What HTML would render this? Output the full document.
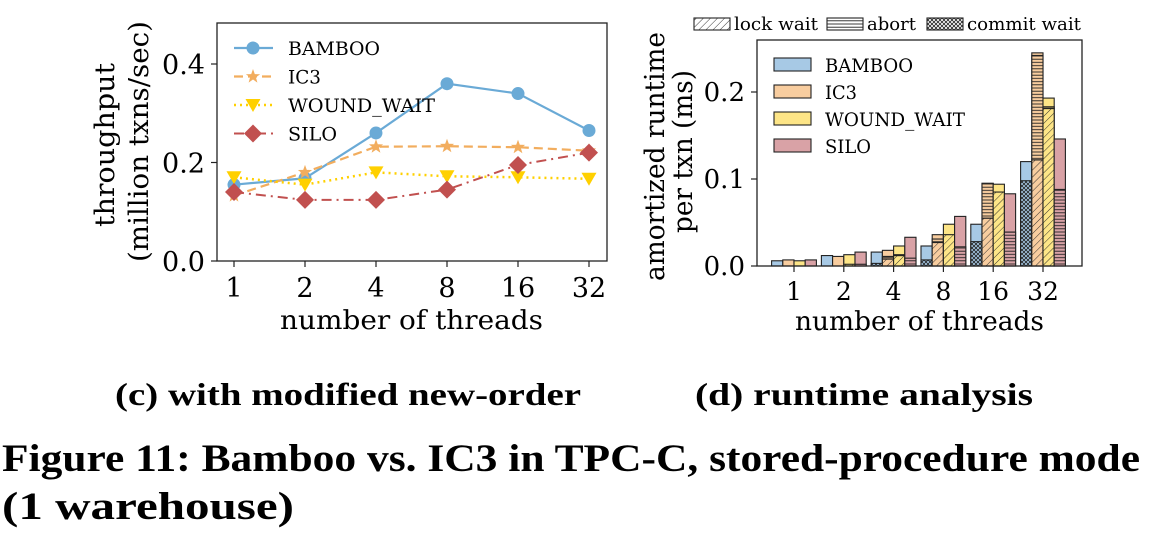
<!DOCTYPE html>
<html><head><meta charset="utf-8"><style>
html,body{margin:0;padding:0;background:#fff;}
svg{display:block;}
</style></head><body>
<svg id="fig" width="1160" height="554" viewBox="0 0 1160 554" xmlns="http://www.w3.org/2000/svg" font-family="DejaVu Serif, Liberation Serif, serif">
<defs>
<pattern id="hLock" patternUnits="userSpaceOnUse" width="5" height="5" patternTransform="rotate(45)"><line x1="0" y1="0" x2="0" y2="5" stroke="#222" stroke-width="0.9"/></pattern>
<pattern id="hAbort" patternUnits="userSpaceOnUse" width="4" height="3.2"><line x1="0" y1="1.6" x2="4" y2="1.6" stroke="#222" stroke-width="0.9"/></pattern>
<pattern id="hCommit" patternUnits="userSpaceOnUse" width="4" height="4"><path d="M0,0L4,4M4,0L0,4" stroke="#222" stroke-width="0.8"/></pattern>
</defs>
<g id="left"></g>
<g id="right"></g>
<text style="font-family:'Liberation Serif',serif;font-weight:bold" x="115" y="405" font-size="32" textLength="466" lengthAdjust="spacingAndGlyphs">(c) with modified new-order</text>
<text style="font-family:'Liberation Serif',serif;font-weight:bold" x="695" y="405" font-size="32" textLength="338" lengthAdjust="spacingAndGlyphs">(d) runtime analysis</text>
<text style="font-family:'Liberation Serif',serif;font-weight:bold" x="2" y="471" font-size="39" textLength="1138" lengthAdjust="spacingAndGlyphs">Figure 11: Bamboo vs. IC3 in TPC-C, stored-procedure mode</text>
<text style="font-family:'Liberation Serif',serif;font-weight:bold" x="2" y="519" font-size="39" textLength="292" lengthAdjust="spacingAndGlyphs">(1 warehouse)</text>
</svg>
<script>
const threads = ["1","2","4","8","16","32"];
const bambooTput = [0.155,0.168,0.26,0.36,0.34,0.265];
const ic3Tput = [0.133,0.18,0.232,0.233,0.231,0.224];
const wwTput = [0.17,0.155,0.18,0.172,0.17,0.167];
const siloTput = [0.14,0.124,0.124,0.145,0.195,0.22];
const leftTicks = [0.0,0.2,0.4];

const systems = ["BAMBOO","IC3","WOUND_WAIT","SILO"];
const commitWait = {BAMBOO:[0,0,0.003,0.007,0.028,0.098],IC3:[0,0,0,0,0,0],WOUND_WAIT:[0,0,0,0,0,0],SILO:[0,0,0,0,0,0]};
const lockWait = {BAMBOO:[0,0,0,0,0,0],IC3:[0,0,0.008,0.027,0.055,0.122],WOUND_WAIT:[0,0.002,0.012,0.036,0.085,0.181],SILO:[0,0,0,0,0,0]};
const abortTime = {BAMBOO:[0,0,0,0,0,0],IC3:[0,0,0.003,0.004,0.04,0.12],WOUND_WAIT:[0,0,0.001,0,0,0.002],SILO:[0,0.002,0.009,0.022,0.039,0.088]};
const totalTime = {BAMBOO:[0.006,0.012,0.016,0.023,0.048,0.12],IC3:[0.007,0.011,0.018,0.036,0.095,0.245],WOUND_WAIT:[0.006,0.013,0.023,0.048,0.094,0.193],SILO:[0.007,0.016,0.033,0.057,0.083,0.146]};
const rightTicks = [0.0,0.1,0.2];

const NS="http://www.w3.org/2000/svg";
function mk(parent,tag,attrs,txt){const e=document.createElementNS(NS,tag);for(const k in attrs)e.setAttribute(k,attrs[k]);if(txt!==undefined)e.textContent=txt;parent.appendChild(e);return e;}

// LEFT
const L=document.getElementById('left');
const lx0=217,lx1=607,ly0=23,ly1=261;
const lx=i=>234+i*71;
const ly=v=>261-v*492.5;
let fr=mk(L,'rect',{x:lx0,y:ly0,width:lx1-lx0,height:ly1-ly0,fill:'none',stroke:'#222','stroke-width':1.3});

leftTicks.forEach(v=>{
  let t=mk(L,'line',{x1:lx0-6,x2:lx0,y1:ly(v),y2:ly(v),stroke:'#222','stroke-width':1.2});
  
  let l=mk(L,'text',{x:lx0-12,y:ly(v)+10,'font-size':27,'text-anchor':'end'},v.toFixed(1));
  
});
threads.forEach((c,i)=>{
  let t=mk(L,'line',{x1:lx(i),x2:lx(i),y1:ly1,y2:ly1+6,stroke:'#222','stroke-width':1.2});
  
  let l=mk(L,'text',{x:lx(i),y:ly1+36,'font-size':27,'text-anchor':'middle'},c);
  
});
let xl=mk(L,'text',{x:280,y:329,'font-size':26,textLength:263,lengthAdjust:'spacingAndGlyphs'},'number of threads');

let yl1=mk(L,'text',{x:-82,y:0,'font-size':27,textLength:164,lengthAdjust:'spacingAndGlyphs',transform:'translate(114,145) rotate(-90)'},'throughput');

let yl2=mk(L,'text',{x:-120,y:0,'font-size':27,textLength:241,lengthAdjust:'spacingAndGlyphs',transform:'translate(148,142) rotate(-90)'},'(million txns/sec)');


function marker(g,type,x,y,col){
  let e;
  if(type==='circle') e=mk(g,'circle',{cx:x,cy:y,r:6.5,fill:col});
  else if(type==='star'){let p=[];for(let k=0;k<10;k++){const r=k%2?3:7.5,a=-Math.PI/2+k*Math.PI/5;p.push((x+r*Math.cos(a)).toFixed(1)+','+(y+r*Math.sin(a)).toFixed(1));}e=mk(g,'polygon',{points:p.join(' '),fill:col});}
  else if(type==='tri') e=mk(g,'polygon',{points:`${x-7.5},${y-6} ${x+7.5},${y-6} ${x},${y+7}`,fill:col});
  else e=mk(g,'polygon',{points:`${x},${y-9} ${x+9},${y} ${x},${y+9} ${x-9},${y}`,fill:col});
  return e;
}
const series=[
  {name:'BAMBOO',data:bambooTput,col:'#6aaad6',dash:'',m:'circle',w:2.2,tl:92},
  {name:'IC3',data:ic3Tput,col:'#f2ad5e',dash:'9,5',m:'star',w:2.2,tl:33},
  {name:'WOUND_WAIT',data:wwTput,col:'#ffd000',dash:'2,4',m:'tri',w:2.5,tl:147},
  {name:'SILO',data:siloTput,col:'#c1504f',dash:'10,5,2,5',m:'diamond',w:2,tl:49},
];
series.forEach((s,si)=>{
  const g=mk(L,'g',{});
  
  const pl=mk(g,'polyline',{points:s.data.map((v,i)=>lx(i)+','+ly(v)).join(' '),fill:'none',stroke:s.col,'stroke-width':s.w,'stroke-dasharray':s.dash});
  
  s.data.forEach((v,i)=>{const m=marker(g,s.m,lx(i),ly(v),s.col);
    });
  const ey=48+si*28.5;
  const lg=mk(L,'g',{});
  
  mk(lg,'line',{x1:234,x2:273,y1:ey,y2:ey,stroke:s.col,'stroke-width':s.w,'stroke-dasharray':s.dash});
  marker(lg,s.m,253,ey,s.col);
  mk(lg,'text',{x:288,y:ey+7,'font-size':19,textLength:s.tl,lengthAdjust:'spacingAndGlyphs'},s.name);
});

// RIGHT
const R=document.getElementById('right');
const rx0=757,rx1=1082,ry0=40,ry1=266;
const gx=i=>794+i*49.8;
const ry=v=>266-v*870;
const bw=11.2;
const fills={BAMBOO:'#a7c9e5',IC3:'#f8cd9f',WOUND_WAIT:'#fde587',SILO:'#d9a2a6'};
threads.forEach((c,i)=>{
  systems.forEach((s,j)=>{
    const g=mk(R,'g',{});
    
    
    const x=gx(i)+(j-2)*bw;
    const tot=totalTime[s][i];
    mk(g,'rect',{x:x,y:ry(tot),width:bw,height:ry(0)-ry(tot),fill:fills[s],stroke:'#222','stroke-width':1.1});
    let base=0;
    [[commitWait,'hCommit'],[lockWait,'hLock'],[abortTime,'hAbort']].forEach(([arr,pat])=>{
      const v=arr[s][i]; if(v<=0)return;
      mk(g,'rect',{x:x,y:ry(base+v),width:bw,height:ry(base)-ry(base+v),fill:fills[s],stroke:'#222','stroke-width':1.1});
      mk(g,'rect',{x:x,y:ry(base+v),width:bw,height:ry(base)-ry(base+v),fill:`url(#${pat})`,stroke:'none'});
      base+=v;
    });
  });
  let t=mk(R,'line',{x1:gx(i),x2:gx(i),y1:ry1,y2:ry1+6,stroke:'#222','stroke-width':1.2});
  
  let l=mk(R,'text',{x:gx(i),y:ry1+34,'font-size':25,'text-anchor':'middle'},c);
  
});
let rfr=mk(R,'rect',{x:rx0,y:ry0,width:rx1-rx0,height:ry1-ry0,fill:'none',stroke:'#222','stroke-width':1.3});

rightTicks.forEach(v=>{
  let t=mk(R,'line',{x1:rx0-6,x2:rx0,y1:ry(v),y2:ry(v),stroke:'#222','stroke-width':1.2});
  
  let l=mk(R,'text',{x:rx0-12,y:ry(v)+9,'font-size':26,'text-anchor':'end'},v.toFixed(1));
  
});
let rxl=mk(R,'text',{x:795,y:330,'font-size':26,textLength:249,lengthAdjust:'spacingAndGlyphs'},'number of threads');

let ryl1=mk(R,'text',{x:-124,y:0,'font-size':27,textLength:249,lengthAdjust:'spacingAndGlyphs',transform:'translate(664,157) rotate(-90)'},'amortized runtime');

let ryl2=mk(R,'text',{x:-81,y:0,'font-size':27,textLength:163,lengthAdjust:'spacingAndGlyphs',transform:'translate(692,152) rotate(-90)'},'per txn (ms)');

const rLegLen=[88,32,140,46];
systems.forEach((s,j)=>{
  const ey=65+j*27;
  const lg=mk(R,'g',{});
  
  mk(lg,'rect',{x:774,y:ey-7,width:37,height:13,fill:fills[s],stroke:'#222','stroke-width':1.1});
  mk(lg,'text',{x:825,y:ey+7,'font-size':19,textLength:rLegLen[j],lengthAdjust:'spacingAndGlyphs'},s);
});
const hatchNames=['lock wait','abort','commit wait'];
const hatchPats=['hLock','hAbort','hCommit'];
const hx=[694,827,927];
const hLen=[84,49,114];
hatchNames.forEach((n,k)=>{
  const lg=mk(R,'g',{});
  
  mk(lg,'rect',{x:hx[k],y:18,width:36,height:12,fill:'#fff',stroke:'#222','stroke-width':1.1});
  mk(lg,'rect',{x:hx[k],y:18,width:36,height:12,fill:`url(#${hatchPats[k]})`});
  mk(lg,'text',{x:hx[k]+40,y:30,'font-size':18,textLength:hLen[k],lengthAdjust:'spacingAndGlyphs'},n);
});
</script>
</body></html>
